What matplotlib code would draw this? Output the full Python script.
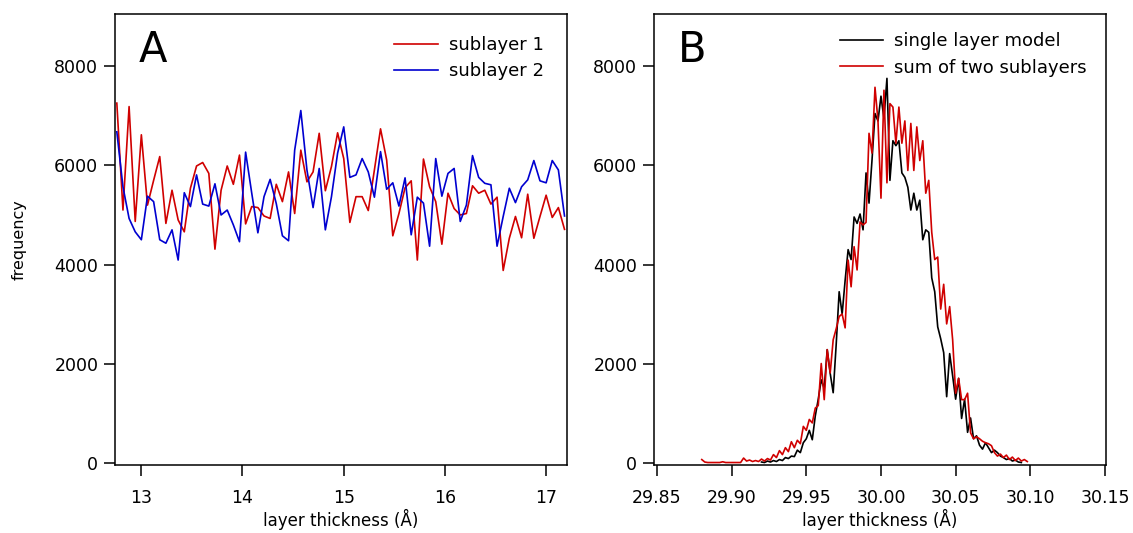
import numpy as np
import matplotlib
matplotlib.use('Agg')
import matplotlib.pyplot as plt
from matplotlib.ticker import FormatStrFormatter

plt.rcParams['font.family'] = ['DejaVu Sans']

# ============================================================
# Panel A: sublayer histograms
# ============================================================
a_x0, a_step = 12.762, 0.0605
sub1 = [7260, 5100, 7190, 4870, 6620, 5200, 5700, 6180, 4830, 5500,
        4900, 4660, 5540, 5990, 6060, 5840, 4310, 5500, 5990, 5620,
        6210, 4820, 5170, 5150, 4980, 4930, 5620, 5270, 5870, 5030,
        6310, 5670, 5870, 6650, 5490, 5980, 6660, 6140, 4850, 5370,
        5370, 5090, 5910, 6740, 6110, 4580, 5030, 5550, 5690, 4090,
        6130, 5570, 5270, 4410, 5440, 5130, 5000, 5030, 5590, 5440,
        5500, 5220, 5360, 3880, 4530, 4970, 4540, 5420, 4530, 4970,
        5400, 4950, 5150, 4710]
sub2 = [6680, 5570, 4930, 4660, 4500, 5380, 5270, 4500, 4430, 4700,
        4090, 5450, 5170, 5810, 5220, 5180, 5630, 5000, 5100, 4800,
        4460, 6270, 5440, 4640, 5370, 5720, 5230, 4580, 4480, 6310,
        7110, 5910, 5150, 5940, 4700, 5370, 6250, 6780, 5760, 5810,
        6140, 5870, 5360, 6280, 5520, 5650, 5180, 5750, 4600, 5360,
        5240, 4370, 6140, 5380, 5840, 5940, 4870, 5200, 6200, 5760,
        5640, 5610, 4370, 4970, 5540, 5250, 5570, 5710, 6100, 5690,
        5650, 6100, 5910, 4980]

# ============================================================
# Panel B: single layer model vs sum of two sublayers
# ============================================================
b_step = 0.002
single_x0 = 29.920
single = [10, 0, 30, 10, 40, 20, 60, 40, 100, 80,
          130, 120, 250, 200, 400, 480, 650, 460, 940, 1280,
          1670, 1500, 2280, 1800, 1410, 2380, 3450, 3000, 3680, 4300,
          4100, 4960, 4830, 5020, 4700, 5850, 5240, 6110, 7050, 6900,
          7400, 6950, 7760, 5700, 6500, 6400, 6500, 5850, 5760, 5560,
          5100, 5440, 5100, 5300, 4500, 4700, 4650, 3730, 3450, 2740,
          2500, 2220, 1330, 2200, 1750, 1280, 1700, 890, 1280, 610,
          900, 480, 540, 350, 270, 400, 300, 200, 250, 200,
          130, 100, 60, 80, 30, 50, 10, 0]
sum_x0 = 29.880
sum_two = [60, 10, 0, 0, 0, 0, 0, 15, 0, 0,
           0, 0, 0, 0, 90, 30, 50, 20, 40, 20,
           70, 30, 80, 50, 160, 100, 240, 160, 300, 220,
           420, 300, 450, 380, 730, 650, 870, 800, 1100, 1150,
           2000, 1270, 2280, 1810, 2480, 2700, 2950, 3000, 2720, 4090,
           3550, 4360, 3890, 4860, 4800, 4850, 6650, 6250, 7580, 6900,
           5340, 7520, 5650, 7250, 7180, 6450, 7180, 6450, 6900, 5900,
           6850, 5900, 6780, 6100, 6500, 5440, 5700, 4650, 4100, 4150,
           3100, 3600, 2800, 3150, 2480, 1400, 1700, 1270, 1270, 1400,
           600, 480, 520, 480, 430, 400, 380, 340, 200, 130,
           170, 100, 150, 60, 110, 40, 90, 30, 60, 20]

x_sub = a_x0 + a_step * np.arange(len(sub1))
x_single = single_x0 + b_step * np.arange(len(single))
x_sum = sum_x0 + b_step * np.arange(len(sum_two))

# ============================================================
# Figure
# ============================================================
fig = plt.figure(figsize=(11.33, 5.33), dpi=100)
axA = fig.add_axes([115 / 1133, 68 / 533, 452 / 1133, 451 / 533])
axB = fig.add_axes([654 / 1133, 68 / 533, 452 / 1133, 451 / 533])

axA.plot(x_sub, sub1, color='#D00000', linewidth=1.2, label='sublayer 1')
axA.plot(x_sub, sub2, color='#0000D0', linewidth=1.2, label='sublayer 2')
axA.set_xlim(12.744, 17.203)
axA.set_xticks([13, 14, 15, 16, 17])
axA.set_ylabel('frequency', fontsize=11.5, labelpad=20)

axB.plot(x_single, single, color='black', linewidth=1.2, label='single layer model')
axB.plot(x_sum, sum_two, color='#D00000', linewidth=1.2, label='sum of two sublayers')
axB.set_xlim(29.848, 30.1507)
axB.set_xticks([29.85, 29.90, 29.95, 30.00, 30.05, 30.10, 30.15])
axB.xaxis.set_major_formatter(FormatStrFormatter('%.2f'))

for ax, letter, anchor in [(axA, 'A', (0.964, 0.967)), (axB, 'B', (0.973, 0.975))]:
    ax.set_ylim(-50, 9060)
    ax.set_yticks([0, 2000, 4000, 6000, 8000])
    ax.set_xlabel('layer thickness (Å)', fontsize=12, labelpad=2)
    ax.tick_params(direction='out', length=8, width=1.1, labelsize=12.5)
    ax.tick_params(axis='y', pad=4)
    ax.tick_params(axis='x', pad=9)
    for sp in ax.spines.values():
        sp.set_linewidth(1.1)
    ax.text(0.052, 0.893, letter, transform=ax.transAxes, fontsize=30,
            ha='left', va='baseline')
    ax.legend(loc='upper right', bbox_to_anchor=anchor, frameon=False,
              fontsize=13, handlelength=2.4, handletextpad=0.6,
              labelspacing=0.45, borderaxespad=0)

fig.savefig('out.png', dpi=100, facecolor='white')
